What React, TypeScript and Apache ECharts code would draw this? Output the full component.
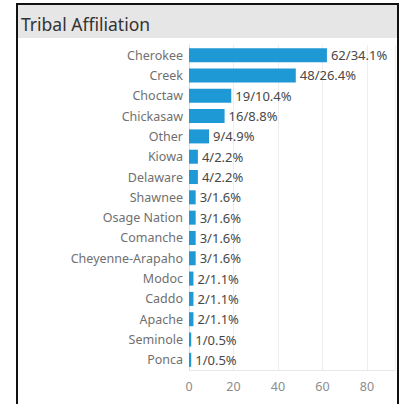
import React, { useEffect, useRef } from "react";
import * as echarts from "echarts";

const categories = [
  "Cherokee", "Creek", "Choctaw", "Chickasaw", "Other", "Kiowa", "Delaware",
  "Shawnee", "Osage Nation", "Comanche", "Cheyenne-Arapaho", "Modoc", "Caddo",
  "Apache", "Seminole", "Ponca",
];
const counts = [62, 48, 19, 16, 9, 4, 4, 3, 3, 3, 3, 2, 2, 2, 1, 1];
const percents = ["34.1%", "26.4%", "10.4%", "8.8%", "4.9%", "2.2%", "2.2%", "1.6%", "1.6%", "1.6%", "1.6%", "1.1%", "1.1%", "1.1%", "0.5%", "0.5%"];
const xTicks = [0, 20, 40, 60, 80];
const title = "Tribal Affiliation";

export default function App() {
  const ref = useRef<HTMLDivElement>(null);
  useEffect(() => {
    if (!ref.current) return;
    const chart = echarts.init(ref.current, null, { renderer: "svg" });
    const font = "Noto Sans";
    chart.setOption({
      animation: false,
      backgroundColor: "#ffffff",
      textStyle: { fontFamily: font },
      graphic: [
        {
          type: "rect",
          shape: { x: 17, y: 4, width: 381, height: 34 },
          style: { fill: "#e6e6e6" },
          z: -1,
        },
        {
          type: "text",
          x: 21,
          y: 24,
          style: {
            text: title,
            fontFamily: font,
            fontSize: 17.5,
            fill: "#333333",
            verticalAlign: "middle",
          },
        },
        {
          type: "rect",
          shape: { x: 17, y: 4, width: 381, height: 420 },
          style: { fill: "none", stroke: "#111111", lineWidth: 2 },
          z: 10,
        },
      ],
      grid: { left: 189, top: 45, width: 206, height: 325, containLabel: false },
      xAxis: {
        type: "value",
        min: 0,
        max: 92.6,
        interval: 20,
        axisLine: { show: true, lineStyle: { color: "#e8e8e8" } },
        axisTick: { show: false },
        splitLine: { show: true, lineStyle: { color: "#eeeeee" } },
        axisLabel: {
          color: "#8c8c8c",
          fontSize: 12.5,
          margin: 10,
          formatter: (v: number) => (xTicks.includes(v) ? String(v) : ""),
          showMaxLabel: false,
        },
      },
      yAxis: {
        type: "category",
        data: categories,
        inverse: true,
        axisLine: { show: true, lineStyle: { color: "#dddddd" } },
        axisTick: { show: false },
        axisLabel: { color: "#707070", fontSize: 12.5, margin: 6 },
      },
      series: [
        {
          type: "bar",
          data: counts,
          barCategoryGap: "31%",
          itemStyle: { color: "#1f98d6" },
          label: {
            show: true,
            position: "right",
            distance: 4,
            color: "#484848",
            fontSize: 13,
            formatter: (p: any) => `${counts[p.dataIndex]}/${percents[p.dataIndex]}`,
          },
        },
      ],
    });
    return () => chart.dispose();
  }, []);
  return (
    <div
      ref={ref}
      style={{ position: "fixed", left: 0, top: 0, width: 401, height: 404 }}
    />
  );
}
